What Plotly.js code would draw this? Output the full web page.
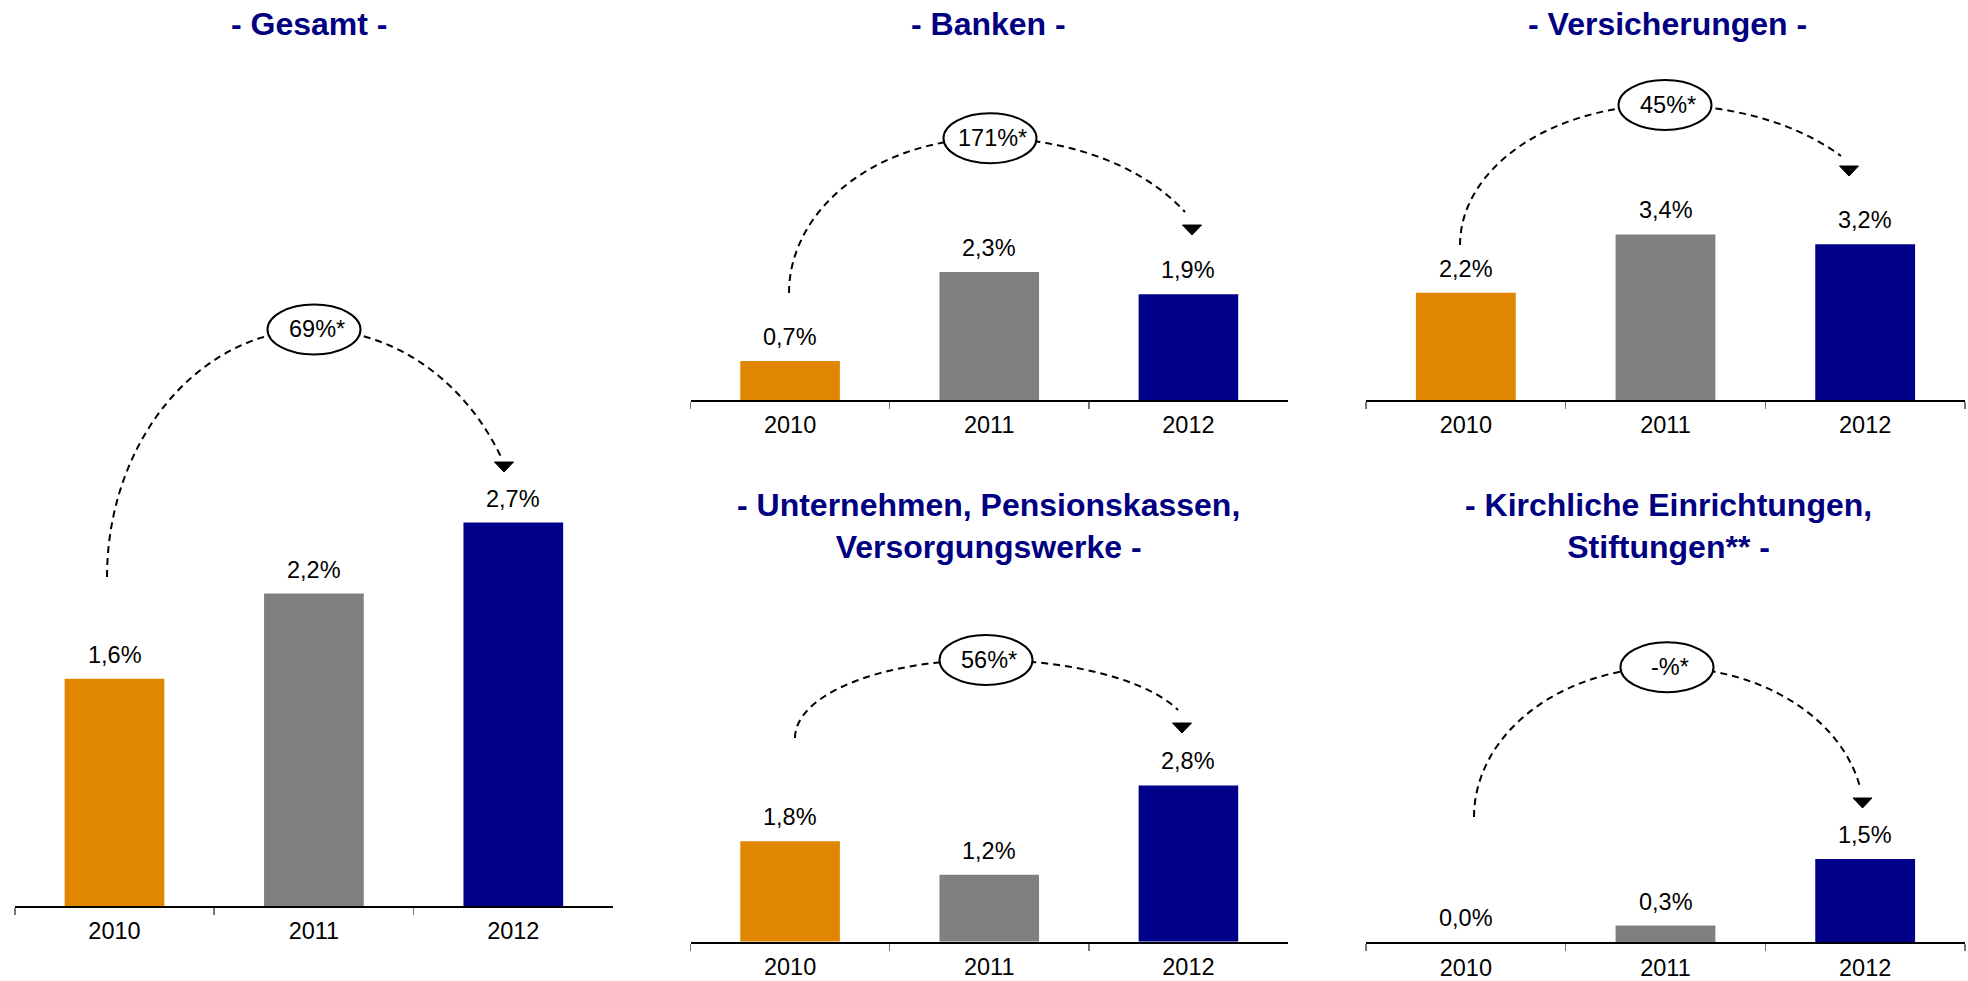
<!DOCTYPE html>
<html>
<head>
<meta charset="utf-8">
<script src="https://cdn.plot.ly/plotly-3.0.1.min.js"></script>
<style>
  html, body { margin: 0; padding: 0; background: #ffffff; }
  #chart { width: 1968px; height: 981px; }
</style>
</head>
<body>
<div id="chart"></div>
<script>
// Growth of the share, 2010-2012, by investor group
const years = ['2010', '2011', '2012'];

const gesamt          = [1.6, 2.2, 2.7];
const banken          = [0.7, 2.3, 1.9];
const versicherungen  = [2.2, 3.4, 3.2];
const unternehmen     = [1.8, 1.2, 2.8];
const kirchliche      = [0.0, 0.3, 1.5];

const panelTitles = [
  '- Gesamt -',
  '- Banken -',
  '- Versicherungen -',
  '- Unternehmen, Pensionskassen,<br>Versorgungswerke -',
  '- Kirchliche Einrichtungen,<br>Stiftungen** -'
];
const changeLabels = ['69%*', '171%*', '45%*', '56%*', '-%*'];

const barColors = ['#E08600', '#808080', '#000088'];
const titleColor = '#000080';
const FONT = 'Arial, "Liberation Sans", Helvetica, sans-serif';
const LABEL_SIZE = 23.5;
const TITLE_SIZE = 32;

// Page geometry (pixels) for each small chart
const W = 1968, H = 981;
const panels = [
  { values: gesamt,         left: 14.8, right: 613,  base: 906,   top: 0,   pxPerUnit: 142,
    titleXY: [309, 24],  oval: [314, 329.5], arcStart: [107, 577], arcEnd: [502, 459], arrow: [504, 462] },
  { values: banken,         left: 690.5, right: 1288, base: 400,  top: 0,   pxPerUnit: 55.6,
    titleXY: [988, 24],  oval: [990, 138.3], arcStart: [789, 293], arcEnd: [1185, 212], arrow: [1192, 225] },
  { values: versicherungen, left: 1366, right: 1965, base: 400,   top: 0,   pxPerUnit: 48.7,
    titleXY: [1667, 24], oval: [1665, 105],  arcStart: [1460, 245], arcEnd: [1841, 156], arrow: [1849, 166] },
  { values: unternehmen,    left: 690.5, right: 1288, base: 941.7, top: 460, pxPerUnit: 55.8,
    titleXY: [988, 526], oval: [986, 660],  arcStart: [795, 738], arcEnd: [1178, 710], arrow: [1182, 723] },
  { values: kirchliche,     left: 1366, right: 1965, base: 942.3, top: 460, pxPerUnit: 55.6,
    titleXY: [1668, 526], oval: [1667, 667.3], arcStart: [1474, 817], arcEnd: [1860, 787], arrow: [1862.5, 798] }
];

const px = x => x / W;
const py = y => 1 - y / H;

function formatPct(v) {
  return v.toFixed(1).replace('.', ',') + '%';
}

// Dashed arc: left quarter ellipse rising to the oval, right part falling towards the arrow
function arcPath(s, a, e) {
  const cy = s[1];
  const b = cy - a[1];
  const aL = a[0] - s[0];
  const r = (cy - e[1]) / b;
  const aR = (e[0] - a[0]) / Math.sqrt(1 - r * r);
  const tEnd = Math.asin(r);
  const pts = [];
  const n = 40;
  for (let i = 0; i <= n; i++) {
    const t = Math.PI - (Math.PI / 2) * (i / n);
    pts.push([a[0] + aL * Math.cos(t), cy - b * Math.sin(t)]);
  }
  for (let i = 1; i <= n; i++) {
    const t = Math.PI / 2 - (Math.PI / 2 - tEnd) * (i / n);
    pts.push([a[0] + aR * Math.cos(t), cy - b * Math.sin(t)]);
  }
  return pts.map((p, i) => (i ? 'L' : 'M') + px(p[0]).toFixed(5) + ',' + py(p[1]).toFixed(5)).join(' ');
}

const data = [];
const layout = {
  width: W, height: H,
  margin: { l: 0, r: 0, t: 0, b: 0 },
  paper_bgcolor: '#ffffff',
  plot_bgcolor: 'rgba(0,0,0,0)',
  showlegend: false,
  bargap: 0.5,
  font: { family: FONT, color: '#000000', size: LABEL_SIZE },
  shapes: [],
  annotations: []
};

panels.forEach((p, i) => {
  const k = i + 1;
  const xa = 'x' + (k === 1 ? '' : k);
  const ya = 'y' + (k === 1 ? '' : k);
  const xKey = 'xaxis' + (k === 1 ? '' : k);
  const yKey = 'yaxis' + (k === 1 ? '' : k);

  data.push({
    type: 'bar',
    x: years,
    y: p.values,
    xaxis: xa,
    yaxis: ya,
    marker: { color: barColors, line: { width: 0 } },
    hoverinfo: 'skip'
  });

  layout[xKey] = {
    domain: [px(p.left), px(p.right)],
    anchor: ya,
    type: 'category',
    range: [-0.5, 2.5],
    showline: true, linecolor: '#000000', linewidth: 2,
    ticks: 'outside', tickson: 'boundaries', ticklen: 7, tickwidth: 1.5, tickcolor: '#777777',
    ticklabelstandoff: 3,
    tickfont: { family: FONT, size: LABEL_SIZE, color: '#000000' },
    showgrid: false, zeroline: false, fixedrange: true
  };
  layout[yKey] = {
    domain: [py(p.base), py(p.top)],
    anchor: xa,
    range: [0, (p.base - p.top) / p.pxPerUnit],
    visible: false, showgrid: false, zeroline: false, fixedrange: true
  };

  // Value labels above the bars (category position given by its index)
  p.values.forEach((v, j) => {
    layout.annotations.push({
      xref: xa, yref: ya, x: j, y: v,
      text: formatPct(v), showarrow: false,
      xanchor: 'center', yanchor: 'bottom', yshift: 9,
      font: { family: FONT, size: LABEL_SIZE, color: '#000000' }
    });
  });

  // Panel title
  layout.annotations.push({
    xref: 'paper', yref: 'paper', x: px(p.titleXY[0]), y: py(p.titleXY[1]),
    text: '<b>' + panelTitles[i] + '</b>', showarrow: false,
    xanchor: 'center', yanchor: 'middle', align: 'center',
    font: { family: FONT, size: TITLE_SIZE, color: titleColor }
  });

  // Dashed growth arc
  layout.shapes.push({
    type: 'path', xref: 'paper', yref: 'paper',
    path: arcPath(p.arcStart, p.oval, p.arcEnd),
    line: { color: '#000000', width: 2, dash: '7px,5px' }
  });
  // Oval holding the growth rate
  layout.shapes.push({
    type: 'circle', xref: 'paper', yref: 'paper',
    x0: px(p.oval[0] - 46.5), x1: px(p.oval[0] + 46.5),
    y0: py(p.oval[1] + 25), y1: py(p.oval[1] - 25),
    fillcolor: '#ffffff', line: { color: '#000000', width: 2 }
  });
  // Arrow head
  const ax = p.arrow[0], at = p.arrow[1];
  layout.shapes.push({
    type: 'path', xref: 'paper', yref: 'paper',
    path: 'M' + px(ax - 9.5) + ',' + py(at) + ' L' + px(ax + 9.5) + ',' + py(at) +
          ' L' + px(ax) + ',' + py(at + 10) + ' Z',
    fillcolor: '#000000', line: { color: '#000000', width: 1 }
  });
  layout.annotations.push({
    xref: 'paper', yref: 'paper', x: px(p.oval[0] + 3), y: py(p.oval[1]),
    text: changeLabels[i], showarrow: false,
    xanchor: 'center', yanchor: 'middle',
    font: { family: FONT, size: LABEL_SIZE, color: '#000000' }
  });
});

Plotly.newPlot('chart', data, layout, { staticPlot: true, displayModeBar: false });
</script>
</body>
</html>
